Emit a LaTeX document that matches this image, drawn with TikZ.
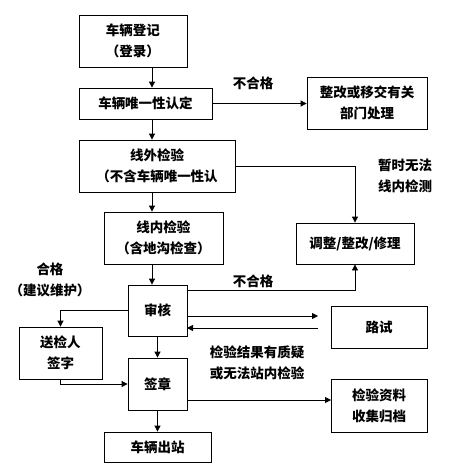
\documentclass[tikz,border=0pt]{standalone}
\usepackage{fontspec}
\newfontfamily\cjk{Noto Sans CJK SC}
\usetikzlibrary{arrows.meta}
\begin{document}
\begin{tikzpicture}[x=1pt,y=-1pt,
  font=\cjk\bfseries\fontsize{13.5}{21}\selectfont,
  box/.style={draw,line width=0.8pt,align=center,inner sep=0pt},
  lbl/.style={align=center,inner sep=0pt},
  conn/.style={line width=0.8pt,-{Triangle[length=6pt,width=6pt]}},
  plain/.style={line width=0.8pt}]
\useasboundingbox (0,0) rectangle (450,475);
\fill[white] (0,0) rectangle (450,475);
\newcommand{\boxat}[6]{\node[box,minimum width=#3-#1,minimum height=#4-#2] (#5) at ({(#1+#3)/2},{(#2+#4)/2}) {#6};}
\boxat{79}{15}{187}{67}{reg}{车辆登记\\（登录）}
\boxat{79}{88}{212}{119}{uniq}{车辆唯一性认定}
\boxat{307}{77}{427}{129}{rect}{整改或移交有关\\部门处理}
\boxat{79}{140}{235}{192}{out}{线外检验\\（不含车辆唯一性认}
\boxat{296}{223}{414}{264}{adj}{调整/整改/修理}
\boxat{104}{212}{223}{264}{inl}{线内检验\\（含地沟检查）}
\boxat{128}{285}{187}{336}{rev}{审核}
\boxat{331}{306}{427}{348}{road}{路试}
\boxat{19}{327}{102}{379}{sign}{送检人\\签字}
\boxat{128}{358}{187}{410}{seal}{签章}
\boxat{331}{379}{427}{432}{arch}{检验资料\\收集归档}
\boxat{104}{432}{211}{462}{exit}{车辆出站}
\node[lbl] (l1) at (253,83) {不合格};
\node[lbl] (l2) at (405,176) {暂时无法\\线内检测};
\node[lbl] (l3) at (253,281) {不合格};
\node[lbl] (l4) at (50,280) {合格\\（建议维护）};
\node[lbl] (l5) at (257,363) {检验结果有质疑\\或无法站内检验};
\draw[conn] (reg.south -| 152,0) -- (uniq.north -| 152,0);
\draw[conn] (uniq.east) -- (rect.west |- uniq.east);
\draw[conn] (uniq.south -| 152,0) -- (out.north -| 152,0);
\draw[conn] (out.south -| 152,0) -- (inl.north -| 152,0);
\draw[conn] (out.east) -| (adj.north);
\draw[conn] (inl.south -| 152,0) -- (rev.north -| 152,0);
\coordinate (r1) at (187,290);
\draw[conn] (r1) -| (adj.south);
\coordinate (ra) at (187,316);
\coordinate (rb) at (318,316);
\draw[conn] (ra) -- (rb);
\coordinate (rc) at (318,328);
\coordinate (rd) at (187,328);
\draw[conn] (rc) -- (rd);
\draw[conn] (rev.west) -| (sign.north);
\draw[conn] (sign.south) |- (seal.west);
\draw[conn] (rev.south) -- (seal.north);
\coordinate (sa) at (187,400);
\coordinate (sb) at (331,400);
\draw[conn] (sa) -- (sb);
\draw[conn] (seal.south) -- (exit.north -| seal.south);
\end{tikzpicture}
\end{document}
